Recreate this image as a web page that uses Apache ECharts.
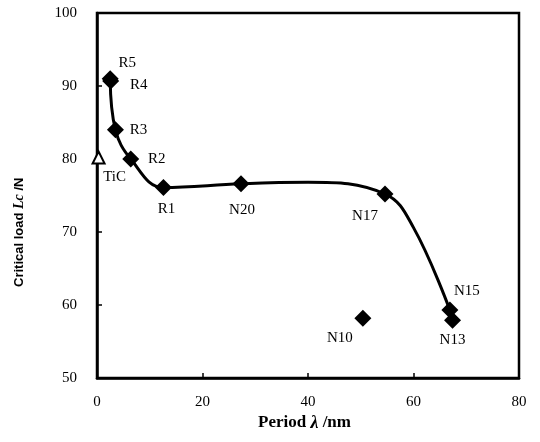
<!DOCTYPE html>
<html>
<head>
<meta charset="utf-8">
<script src="https://cdn.jsdelivr.net/npm/echarts@6/dist/echarts.min.js"></script>
<style>html,body{margin:0;padding:0;background:#fff;}#c{width:540px;height:442px;}</style>
</head>
<body>
<div id="c"></div>
<script>
// Sample points (period in nm, critical load in N)
var pointNames = ['R5','R4','R3','R2','R1','N20','N17','N15','N13','N10'];
var periodX   = [2.5, 2.6, 3.5, 6.4, 12.6, 27.3, 54.6, 66.9, 67.4, 50.4];
var loadY     = [91.0, 90.7, 84.0, 80.0, 76.1, 76.6, 75.2, 59.3, 57.9, 58.2];
// TiC reference point
var ticName = 'TiC';
var ticX = [0.3];
var ticY = [80.2];
// Fitted trend curve
var curveX = [2.5, 3.5, 6.4, 12.6, 27.3, 40.0, 54.6, 60.0, 66.9];
var curveY = [91.0, 84.0, 80.0, 76.1, 76.6, 76.8, 75.2, 70.6, 59.3];
// Axes
var xTicks = [0, 20, 40, 60, 80];
var yTicks = [50, 60, 70, 80, 90, 100];

var labelOffsets = {
  R5:[17,-16], R4:[28,4], R3:[23,0], R2:[26,0], R1:[3,22], N20:[1,26],
  N17:[-20,22], N15:[17,-19], N13:[0,20], N10:[-23,20], TiC:[16,20]
};
var serif = '"Liberation Serif", "DejaVu Serif", serif';

var pts = pointNames.map(function(n, i){
  return {
    name: n, value: [periodX[i], loadY[i]],
    label: {show: true, formatter: n, position: 'inside', offset: labelOffsets[n],
      color: '#000', fontFamily: serif, fontSize: 15}
  };
});
var ticPts = ticX.map(function(x, i){
  return {name: ticName, value: [x, ticY[i]],
    label: {show: true, formatter: ticName, position: 'inside', offset: labelOffsets[ticName],
      color: '#000', fontFamily: serif, fontSize: 15}};
});
var curve = curveX.map(function(x, i){ return [x, curveY[i]]; });

var chart = echarts.init(document.getElementById('c'));
chart.setOption({
  animation: false,
  backgroundColor: '#fff',
  grid: {left: 97, right: 21, top: 13, bottom: 64, show: true, borderColor: '#000', borderWidth: 2.5},
  xAxis: {
    type: 'value', min: xTicks[0], max: xTicks[xTicks.length-1], interval: 20,
    axisLine: {lineStyle: {color: '#000', width: 2.5}},
    axisTick: {inside: true, length: 5, lineStyle: {color: '#000', width: 1.5}},
    axisLabel: {color: '#000', fontFamily: serif, fontSize: 15, margin: 17},
    splitLine: {show: false}
  },
  yAxis: {
    type: 'value', min: yTicks[0], max: yTicks[yTicks.length-1], interval: 10,
    axisLine: {lineStyle: {color: '#000', width: 2.5}},
    axisTick: {inside: true, length: 5, lineStyle: {color: '#000', width: 1.5}},
    axisLabel: {color: '#000', fontFamily: serif, fontSize: 15, margin: 20},
    splitLine: {show: false}
  },
  series: [
    {type: 'line', data: curve, smooth: 0.4, symbol: 'none',
      lineStyle: {color: '#000', width: 3}, z: 2},
    {type: 'scatter', data: pts, symbol: 'diamond', symbolSize: 17,
      itemStyle: {color: '#000', opacity: 1}, z: 3},
    {type: 'scatter', data: ticPts, symbol: 'triangle', symbolSize: 12,
      itemStyle: {color: '#fff', borderColor: '#000', borderWidth: 2, opacity: 1}, z: 3}
  ],
  graphic: [
    {type: 'text', x: 258, y: 423, style: {
      text: '{b|Period }{i|λ}{b| /nm}', verticalAlign: 'middle',
      rich: {
        b: {fontFamily: serif, fontWeight: 'bold', fontSize: 17, fill: '#000'},
        i: {fontFamily: serif, fontWeight: 'bold', fontStyle: 'italic', fontSize: 18, fill: '#000'}
      }}},
    {type: 'text', x: 12, y: 287, rotation: Math.PI/2, style: {
      text: '{b|Critical load }{i|Lc}{b| /N}',
      rich: {
        b: {fontFamily: '"Liberation Sans", Arial, sans-serif', fontWeight: 'bold', fontSize: 13, fill: '#000'},
        i: {fontFamily: serif, fontWeight: 'bold', fontStyle: 'italic', fontSize: 14, fill: '#000'}
      }}}
  ]
});
</script>
</body>
</html>
